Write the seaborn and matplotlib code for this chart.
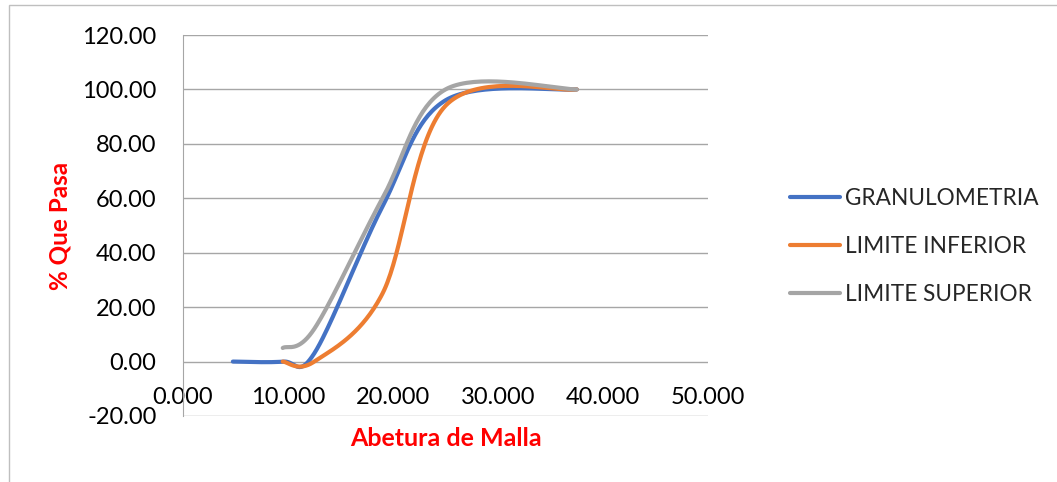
import numpy as np
import pandas as pd
import matplotlib
matplotlib.use("Agg")
import matplotlib.pyplot as plt
from matplotlib.patches import Rectangle
import seaborn as sns

# abertura de tamiz (mm) y % que pasa
abertura_gran = [4.75, 9.5, 12.5, 19.0, 25.0, 37.5]
pasa_gran = [0.0, 0.0, 3.0, 57.0, 96.0, 100.0]

abertura_lim = [9.5, 12.5, 19.0, 25.0, 37.5]
pasa_inf = [0.0, 0.0, 25.0, 94.0, 100.0]
pasa_sup = [5.0, 12.0, 60.0, 100.0, 100.0]

series = ["GRANULOMETRIA", "LIMITE INFERIOR", "LIMITE SUPERIOR"]
colores = ["#4472C4", "#ED7D31", "#A5A5A5"]
yticks = [-20, 0, 20, 40, 60, 80, 100, 120]
xticks = [0, 10, 20, 30, 40, 50]


def suavizar(x, y, n=40):
    # linea suavizada tipo Excel (bezier entre puntos)
    p = np.column_stack([x, y]).astype(float)
    t = np.linspace(0, 1, n)[:, None]
    out = []
    for i in range(len(p) - 1):
        p0, p3 = p[i], p[i + 1]
        prev = p[i - 1] if i > 0 else p[i]
        nxt = p[i + 2] if i + 2 < len(p) else p[i + 1]
        p1 = p0 + (p3 - prev) / 6
        p2 = p3 - (nxt - p0) / 6
        seg = (1 - t) ** 3 * p0 + 3 * (1 - t) ** 2 * t * p1 + 3 * (1 - t) * t ** 2 * p2 + t ** 3 * p3
        out.append(seg if i == 0 else seg[1:])
    return np.vstack(out)


frames = []
for nombre, xs, ys in zip(series, [abertura_gran, abertura_lim, abertura_lim],
                          [pasa_gran, pasa_inf, pasa_sup]):
    c = suavizar(xs, ys)
    frames.append(pd.DataFrame({"x": c[:, 0], "y": c[:, 1], "serie": nombre}))
df = pd.concat(frames, ignore_index=True)

sns.set_style("white")
plt.rcParams["font.family"] = ["Lato", "DejaVu Sans"]

fig = plt.figure(figsize=(10.57, 4.82), dpi=100)
ax = fig.add_axes([183 / 1057, 1 - 416 / 482, 525 / 1057, 381 / 482])

sns.lineplot(data=df, x="x", y="y", hue="serie", palette=colores, sort=False,
             estimator=None, linewidth=3, ax=ax)

ax.set_xlim(0, 50)
ax.set_ylim(-20, 120)
ax.set_xticks(xticks)
ax.set_yticks(yticks)
ax.set_xticklabels([f"{v:.3f}" for v in xticks])
ax.set_yticklabels([f"{v:.2f}" for v in yticks])
ax.grid(axis="y", color="#A6A6A6", linewidth=1)
ax.set_axisbelow(True)
ax.tick_params(axis="both", length=0, labelsize=17, colors="black")
ax.tick_params(axis="y", pad=19)
ax.tick_params(axis="x", pad=18)

for s in ["top", "right"]:
    ax.spines[s].set_visible(False)
ax.spines["bottom"].set_position(("data", 0))
ax.spines["bottom"].set_visible(False)
ax.spines["left"].set_color("#A6A6A6")

ax.set_xlabel("Abetura de Malla", color="red", fontweight="bold", fontsize=18)
ax.set_ylabel("% Que Pasa", color="red", fontweight="bold", fontsize=17.5)
ax.xaxis.set_label_coords(0.5, -0.03)
ax.yaxis.set_label_coords(-0.213, 0.5)

ax.legend(title=None, frameon=False, loc="center left",
          bbox_to_anchor=(790 / 1057, 1 - 246.5 / 482), bbox_transform=fig.transFigure,
          borderpad=0, borderaxespad=0, fontsize=16.3, handlelength=2.2,
          handletextpad=0.25, labelspacing=1.2)

fig.add_artist(Rectangle((9 / 1057, -0.1), 1.2, 1.1 - 5 / 482, transform=fig.transFigure,
                         fill=False, edgecolor="#BFBFBF", linewidth=1))

fig.savefig("out.png", dpi=100)
